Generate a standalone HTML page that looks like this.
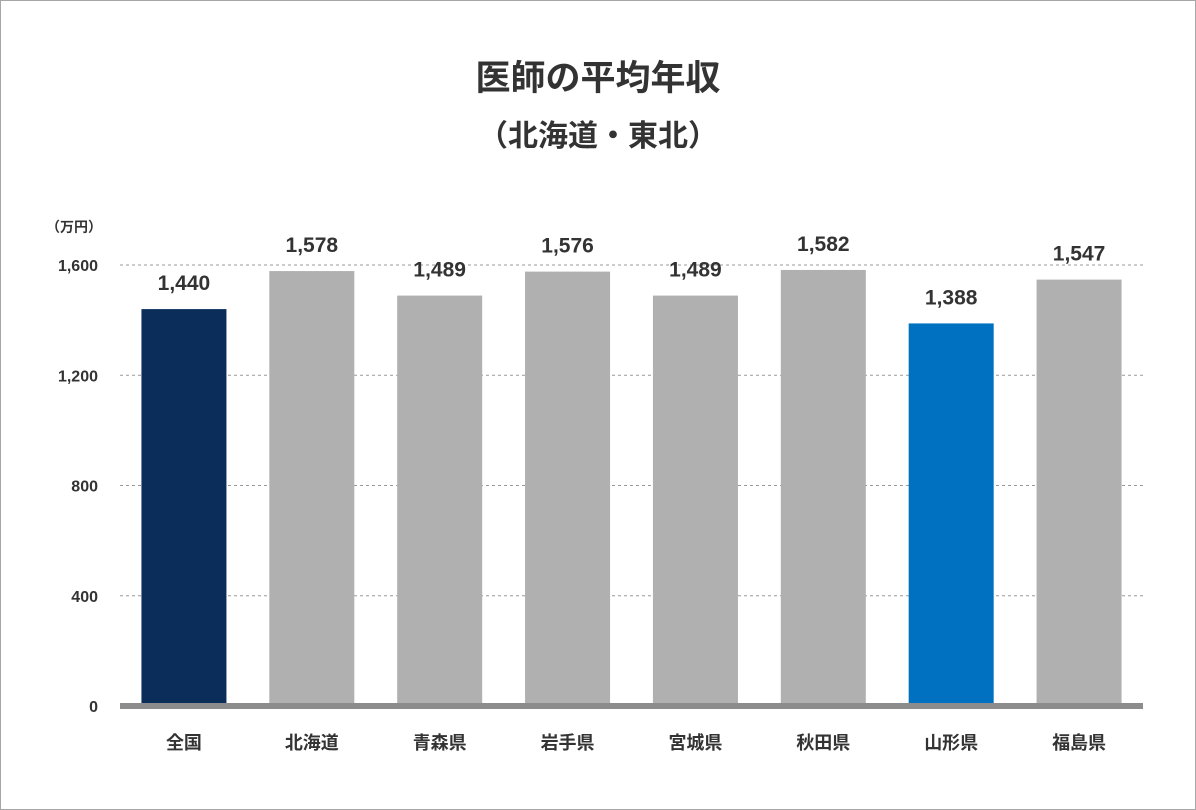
<!DOCTYPE html>
<html><head><meta charset="utf-8">
<style>
html,body{margin:0;padding:0;background:#fff;}
body{width:1196px;height:810px;position:relative;overflow:hidden;font-family:"Liberation Sans","Noto Sans CJK JP",sans-serif;}
#frame{position:absolute;left:0;top:0;width:1194px;height:808px;border:1px solid #a6a6a6;}
svg text{font-family:"Liberation Sans","Noto Sans CJK JP",sans-serif;font-weight:bold;fill:#333;}
</style></head>
<body>
<div id="frame"></div>
<svg id="chart" width="1196" height="810" style="position:absolute;left:0;top:0">
<text x="598" y="90" text-anchor="middle" font-size="35">医師の平均年収</text>
<text x="598" y="146" text-anchor="middle" font-size="30">（北海道・東北）</text>
<text x="46" y="232" font-size="14">（万円）</text>
<g id="grid"></g><g id="bars"></g>
</svg>
<script>
const categories=["全国","北海道","青森県","岩手県","宮城県","秋田県","山形県","福島県"];
const values=[1440,1578,1489,1576,1489,1582,1388,1547];
const colors=["#0b2d5a","#b0b0b0","#b0b0b0","#b0b0b0","#b0b0b0","#b0b0b0","#0070c0","#b0b0b0"];
const ticks=[0,400,800,1200,1600];
const yMax=1600,y0=706,y1=265,left=120,right=1143;
const y=v=>y0-(v/yMax)*(y0-y1);
const band=(right-left)/categories.length;
const xc=i=>left+band*(i+0.5);
const NS="http://www.w3.org/2000/svg";
const grid=document.getElementById('grid'),bars=document.getElementById('bars');
function mk(tag,attrs,parent){const e=document.createElementNS(NS,tag);for(const k in attrs)e.setAttribute(k,attrs[k]);parent.appendChild(e);return e;}
ticks.forEach(t=>{
  if(t>0){const l=mk('line',{x1:left,x2:right,y1:y(t),y2:y(t),stroke:'#999','stroke-dasharray':'3,3','stroke-width':1},grid);
  
  }
  const tx=mk('text',{x:98,y:y(t)+6,'text-anchor':'end','font-size':16},grid);
  tx.textContent=t.toLocaleString('en-US');
  
  
});
categories.forEach((c,i)=>{
  const w=85;
  const r=mk('rect',{x:xc(i)-w/2,y:y(values[i]),width:w,height:y0-y(values[i]),fill:colors[i]},bars);
  
  
  const v=mk('text',{x:xc(i),y:y(values[i])-19,'text-anchor':'middle','font-size':21},bars);
  v.textContent=values[i].toLocaleString('en-US');
  
  
  const lb=mk('text',{x:xc(i),y:749,'text-anchor':'middle','font-size':18},bars);
  lb.textContent=c;
  
  
});
const base=mk('rect',{x:left,y:703,width:right-left,height:6,fill:'#8c8c8c'},bars);


</script>
</body></html>
